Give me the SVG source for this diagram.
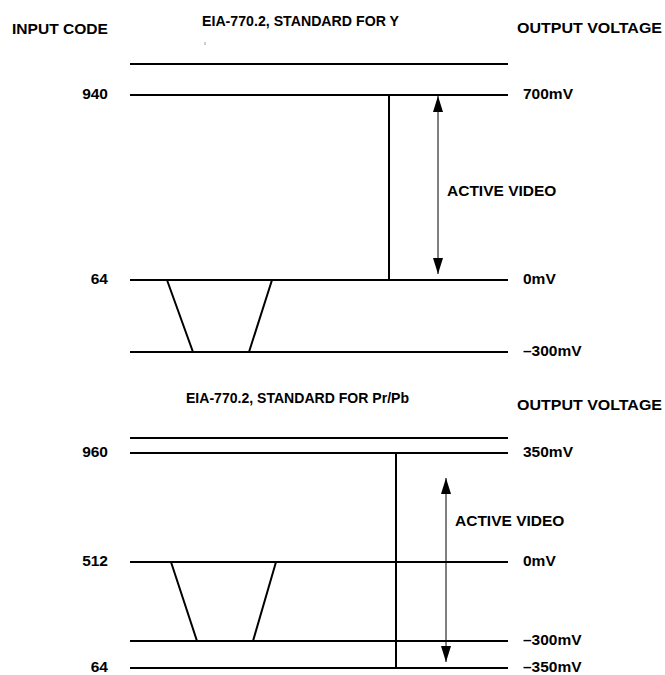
<svg xmlns="http://www.w3.org/2000/svg" width="665" height="675" viewBox="0 0 665 675">
<style>
text{font-family:"Liberation Sans",Arial,sans-serif;font-weight:bold;font-size:15.5px;fill:#000}
.r{text-anchor:end}
.lv{stroke:#000;stroke-width:2;fill:none}
.ar{stroke:#000;stroke-width:1;fill:none}
</style>
<defs>
<marker id="ah" markerWidth="16" markerHeight="10" refX="16" refY="5" orient="auto-start-reverse" markerUnits="userSpaceOnUse" viewBox="0 0 16 10">
<path d="M0,0 L16,5 L0,10 Z" fill="#000"/>
</marker>
</defs>
<rect width="665" height="675" fill="#fff"/>
<g id="top">
<text x="202" y="26" textLength="197" lengthAdjust="spacingAndGlyphs">EIA-770.2, STANDARD FOR Y</text>
<text x="12" y="34" textLength="96" lengthAdjust="spacingAndGlyphs">INPUT CODE</text>
<text x="517" y="33" textLength="145" lengthAdjust="spacingAndGlyphs">OUTPUT VOLTAGE</text>
<rect x="204.5" y="42" width="1" height="3" fill="#999"/>
<line class="lv" x1="130" y1="64" x2="508" y2="64"/>
<g id="y940"><text x="108" y="99" class="r">940</text><line class="lv" x1="130" y1="95" x2="508" y2="95"/><text x="523" y="99">700mV</text></g>
<g id="y64"><text x="108" y="284" class="r">64</text><line class="lv" x1="130" y1="280" x2="508" y2="280"/><text x="523" y="284">0mV</text></g>
<g id="ym300"><line class="lv" x1="130" y1="352" x2="508" y2="352"/><text x="523" y="356">–300mV</text></g>
<path class="lv" d="M167,280 L193,352 L249,352 L272,280"/>
<line class="lv" x1="389" y1="95" x2="389" y2="280"/>
<text x="447" y="195.5">ACTIVE VIDEO</text>
</g>
<g id="bottom">
<text x="186" y="403" textLength="223" lengthAdjust="spacingAndGlyphs">EIA-770.2, STANDARD FOR Pr/Pb</text>
<text x="517" y="410" textLength="145" lengthAdjust="spacingAndGlyphs">OUTPUT VOLTAGE</text>
<line class="lv" x1="130" y1="438" x2="508" y2="438"/>
<g id="p960"><text x="108" y="457" class="r">960</text><line class="lv" x1="130" y1="453" x2="508" y2="453"/><text x="523" y="457">350mV</text></g>
<g id="p512"><text x="108" y="566" class="r">512</text><line class="lv" x1="130" y1="562" x2="508" y2="562"/><text x="523" y="566">0mV</text></g>
<g id="pm300"><line class="lv" x1="130" y1="641" x2="508" y2="641"/><text x="523" y="645">–300mV</text></g>
<g id="p64"><text x="108" y="672" class="r">64</text><line class="lv" x1="130" y1="668" x2="508" y2="668"/><text x="523" y="672">–350mV</text></g>
<path class="lv" d="M171,562 L197,641 L253,641 L276,562"/>
<line class="lv" x1="396" y1="453" x2="396" y2="668"/>
<text x="455" y="526">ACTIVE VIDEO</text>
</g>
<g id="connectors">
<line class="ar" x1="438" y1="96" x2="438" y2="274" marker-start="url(#ah)" marker-end="url(#ah)"/>
<line class="ar" x1="446" y1="478" x2="446" y2="662" marker-start="url(#ah)" marker-end="url(#ah)"/>
</g>
</svg>
